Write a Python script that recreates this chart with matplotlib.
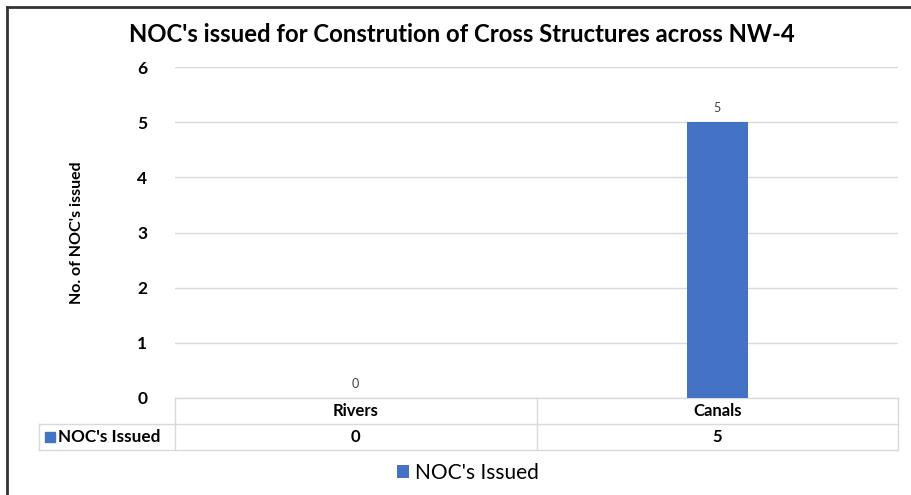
import matplotlib
matplotlib.use("Agg")
import matplotlib.pyplot as plt
from matplotlib.patches import Rectangle
from matplotlib.lines import Line2D

# chart data
categories = ["Rivers", "Canals"]
noc_issued = [0, 5]
series_name = "NOC's Issued"
y_ticks = [0, 1, 2, 3, 4, 5, 6]

blue = "#4472C4"
grid_col = "#d9d9d9"
txt_col = "#000000"

plt.rcParams['font.family'] = ['Lato', 'DejaVu Sans']

W, H = 911, 495
fig = plt.figure(figsize=(W / 100, H / 100), dpi=100)

# outer chart frame (cropped on right/bottom in the original)
fig.add_artist(Line2D([7 / W, 7 / W], [0, 1 - 7 / H], color="#333333", lw=2.0))
fig.add_artist(Line2D([7 / W, 1], [1 - 7 / H, 1 - 7 / H], color="#333333", lw=2.0))

# plot area
left, right, top, bottom = 175, 898, 67, 398
ax = fig.add_axes([left / W, 1 - bottom / H, (right - left) / W, (bottom - top) / H])

x = list(range(len(categories)))
bars = ax.bar(x, noc_issued, width=0.17, color=blue, label=series_name, zorder=3)
ax.set_xlim(-0.5, len(categories) - 0.5)
ax.set_ylim(0, 6)
ax.set_yticks(y_ticks)
ax.set_yticklabels([str(t) for t in y_ticks], fontsize=12.5, fontweight="bold")
ax.tick_params(axis="y", length=0, pad=20)
ax.set_xticks([])
ax.grid(axis="y", color=grid_col, lw=1, zorder=0)
for s in ax.spines.values():
    s.set_visible(False)

ax.set_ylabel("No. of NOC's issued", fontsize=11.5, fontweight="bold", labelpad=38)

# data labels
for xi, v in zip(x, noc_issued):
    ax.annotate(str(v), (xi, v), xytext=(0, 6), textcoords="offset points",
                ha="center", va="bottom", fontsize=9, color="#404040")

ax.set_title("NOC's issued for Constrution of Cross Structures across NW-4",
             fontsize=17.2, fontweight="bold", pad=18, x=0.397)

# data table below the axis (axes fraction coordinates)
ph = bottom - top
pw = right - left
r1 = -26 / ph
r2 = -52 / ph
lx = (39 - left) / pw
tk = dict(transform=ax.transAxes, clip_on=False, color=grid_col, lw=1)
ax.plot([0, 1], [0, 0], **tk)
ax.plot([lx, 1], [r1, r1], **tk)
ax.plot([lx, 1], [r2, r2], **tk)
for xv in [0, 0.5, 1]:
    ax.plot([xv, xv], [0, r2], **tk)
ax.plot([lx, lx], [r1, r2], **tk)

ncat = len(categories)
for i, (c, v) in enumerate(zip(categories, noc_issued)):
    cx = (i + 0.5) / ncat
    ax.text(cx, r1 / 2, c, transform=ax.transAxes, ha="center", va="center",
            fontsize=12, fontweight="bold", color=txt_col)
    ax.text(cx, (r1 + r2) / 2, str(v), transform=ax.transAxes, ha="center", va="center",
            fontsize=12, fontweight="bold", color=txt_col)

ax.add_patch(Rectangle(((45 - left) / pw, (r1 + r2) / 2 - 5 / ph), 10 / pw, 10 / ph,
                       transform=ax.transAxes, clip_on=False, color=blue))
ax.text((58 - left) / pw, (r1 + r2) / 2, series_name, transform=ax.transAxes,
        ha="left", va="center", fontsize=12.3, fontweight="bold", color=txt_col)

# legend
fig.legend(handles=[bars], labels=[series_name], loc="center",
           bbox_to_anchor=(468 / W, 1 - 473 / H), frameon=False, fontsize=15,
           handlelength=0.6, handleheight=0.6, handletextpad=0.3)

fig.savefig("out.png", dpi=100, facecolor="white")
